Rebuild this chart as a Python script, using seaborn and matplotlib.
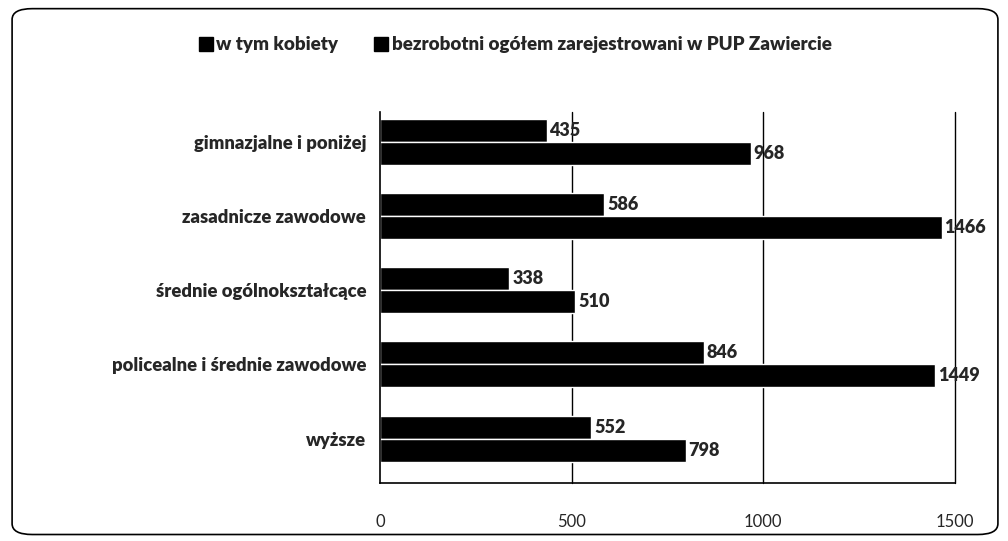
import pandas as pd
import matplotlib.pyplot as plt
import seaborn as sns
from matplotlib.patches import FancyBboxPatch
from matplotlib.lines import Line2D

# data
categories = ["gimnazjalne i poniżej", "zasadnicze zawodowe", "średnie ogólnokształcące",
              "policealne i średnie zawodowe", "wyższe"]
kobiety = [435, 586, 338, 846, 552]
ogolem = [968, 1466, 510, 1449, 798]
series = ["w tym kobiety", "bezrobotni ogółem zarejestrowani w PUP Zawiercie"]

df = pd.DataFrame({
    "kategoria": categories * 2,
    "wartosc": kobiety + ogolem,
    "seria": [series[0]] * len(categories) + [series[1]] * len(categories),
})

sns.set_style("white")
plt.rcParams['font.family'] = ['Lato', 'DejaVu Sans']

fig = plt.figure(figsize=(10.08, 5.41), dpi=100)
ax = fig.add_axes([0.377, 0.107, 0.570, 0.686])

sns.barplot(data=df, y="kategoria", x="wartosc", hue="seria", hue_order=series,
            order=categories, orient="h", palette=["black", "black"], width=0.62,
            legend=False, ax=ax)

for cont in ax.containers:
    ax.bar_label(cont, padding=2, fontsize=13, fontweight="heavy")

ax.set_xlim(0, 1500)
ax.set_ylim(4.6, -0.4)
ax.set_xticks([0, 500, 1000, 1500])
ax.set_xticklabels(["0", "500", "1000", "1500"], fontsize=12)
ax.set_yticks(range(len(categories)))
ax.set_yticklabels(categories, fontsize=13.2, fontweight="heavy")
ax.set_xlabel("")
ax.set_ylabel("")
ax.tick_params(axis="y", length=0, pad=10)
ax.tick_params(axis="x", length=0, pad=22)
ax.set_yticks([k - 0.4 for k in range(len(categories) + 1)], minor=True)
ax.tick_params(axis="y", which="minor", length=5, width=1, color="black", direction="out")

for v in [500, 1000, 1500]:
    ax.axvline(v, color="black", lw=1, zorder=0, clip_on=False)
for s in ["top", "right"]:
    ax.spines[s].set_visible(False)
for s in ["left", "bottom"]:
    ax.spines[s].set_color("black")
    ax.spines[s].set_linewidth(1.2)

# legend
handles = [Line2D([], [], marker="s", color="black", ls="", markersize=10) for _ in series]
fig.legend(handles, series, loc="center", bbox_to_anchor=(0.51, 0.917), ncol=2,
           frameon=False, handletextpad=0.05, columnspacing=1.8, handlelength=1.0,
           prop={"weight": "heavy", "size": 13.5})

# rounded frame
fig.patches.append(FancyBboxPatch((0.012, 0.012), 0.978, 0.972, boxstyle="round,pad=0,rounding_size=0.02",
                                  transform=fig.transFigure, fill=False, ec="black", lw=1.2))

fig.savefig("out.png", dpi=100)
